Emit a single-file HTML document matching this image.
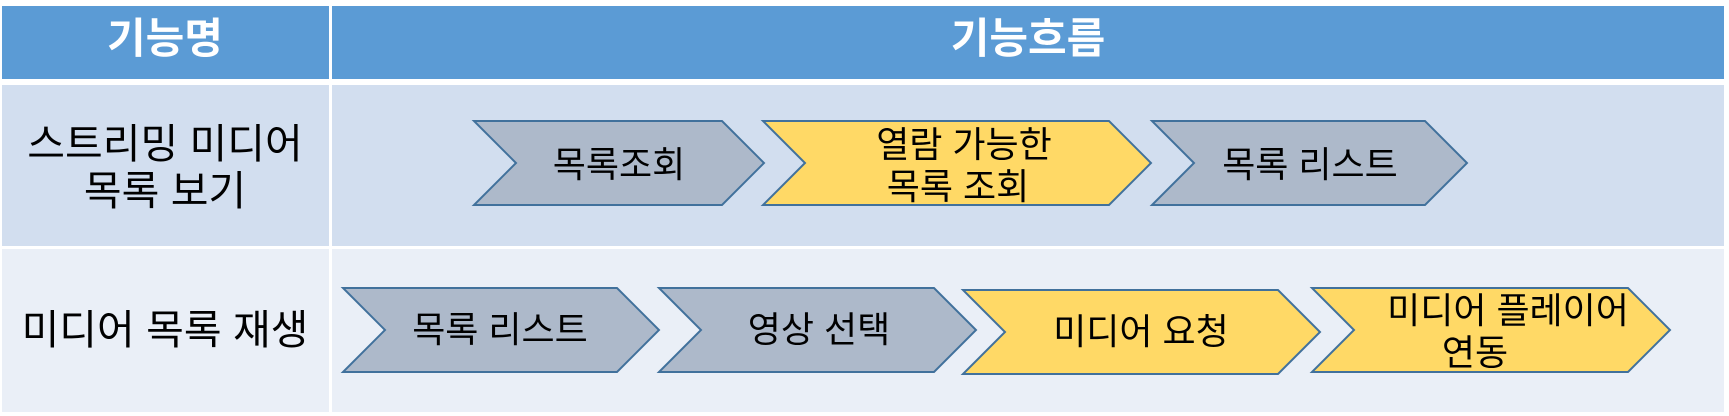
<!DOCTYPE html>
<html><head><meta charset="utf-8"><style>
html,body{margin:0;padding:0;background:#fff;}
svg{display:block;}
text{font-family:"Liberation Sans","Noto Sans CJK KR",sans-serif;}
</style></head><body>
<svg width="1729" height="416" viewBox="0 0 1729 416" xmlns="http://www.w3.org/2000/svg">
<rect x="0" y="0" width="1729" height="416" fill="#fff"/>
<rect x="2" y="6" width="327" height="73" fill="#5B9BD5"/>
<rect x="332" y="6" width="1392" height="73" fill="#5B9BD5"/>
<rect x="2" y="85" width="327" height="161" fill="#D2DEEF"/>
<rect x="332" y="85" width="1392" height="161" fill="#D2DEEF"/>
<rect x="2" y="249" width="327" height="163" fill="#EAEFF7"/>
<rect x="332" y="249" width="1392" height="163" fill="#EAEFF7"/>
<g font-weight="bold" fill="#fff" font-size="42" text-anchor="middle">
<text x="165" y="53">기능명</text>
<text x="1028" y="53">기능흐름</text>
</g>
<g stroke="#41719C" stroke-width="2">
<polygon points="474,121 722,121 764,163 722,205 474,205 516,163" fill="#ADB9CA"/>
<polygon points="763,121 1109,121 1151,163 1109,205 763,205 805,163" fill="#FFD966"/>
<polygon points="1152,121 1425,121 1467,163 1425,205 1152,205 1194,163" fill="#ADB9CA"/>
<polygon points="343,288 617,288 659,330 617,372 343,372 385,330" fill="#ADB9CA"/>
<polygon points="659,288 934,288 976,330 934,372 659,372 701,330" fill="#ADB9CA"/>
<polygon points="963,290 1278,290 1320,332 1278,374 963,374 1005,332" fill="#FFD966"/>
<polygon points="1312,288 1628,288 1670,330 1628,372 1312,372 1354,330" fill="#FFD966"/>
</g>
<g fill="#000" font-size="41" text-anchor="middle">
<text x="165" y="158">스트리밍 미디어</text>
<text x="165" y="205">목록 보기</text>
<text x="165" y="344">미디어 목록 재생</text>
</g>
<g fill="#000" font-size="36" text-anchor="middle">
<text x="619" y="177">목록조회</text>
<text x="964" y="157">열람 가능한</text>
<text x="958" y="199">목록 조회</text>
<text x="1310" y="177">목록 리스트</text>
<text x="500" y="342">목록 리스트</text>
<text x="819" y="342">영상 선택</text>
<text x="1141" y="344">미디어 요청</text>
<text x="1508" y="323">미디어 플레이어</text>
<text x="1475" y="365">연동</text>
</g>
</svg>
</body></html>
